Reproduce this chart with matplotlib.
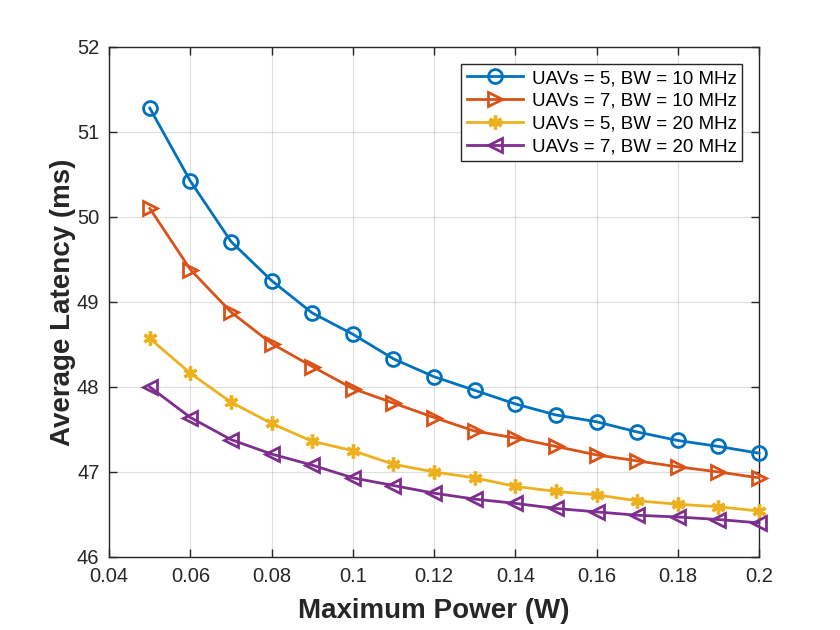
"""
Average latency vs maximum power
MATLAB-style line chart
"""
from matplotlib import pyplot as plt
import numpy as np

plt.rcParams['font.family'] = ['Liberation Sans', 'DejaVu Sans']

# Maximum transmit power (W)
power = np.array([0.05, 0.06, 0.07, 0.08, 0.09, 0.10, 0.11, 0.12,
                  0.13, 0.14, 0.15, 0.16, 0.17, 0.18, 0.19, 0.20])

# Average latency (ms) for each setting
uav5_bw10 = [51.28, 50.42, 49.71, 49.25, 48.87, 48.62, 48.33, 48.12,
             47.96, 47.80, 47.67, 47.59, 47.47, 47.37, 47.30, 47.22]
uav7_bw10 = [50.10, 49.38, 48.88, 48.51, 48.24, 47.98, 47.81, 47.64,
             47.48, 47.40, 47.30, 47.20, 47.13, 47.06, 47.00, 46.93]
uav5_bw20 = [48.57, 48.16, 47.82, 47.57, 47.36, 47.25, 47.09, 47.00,
             46.93, 46.83, 46.77, 46.73, 46.66, 46.62, 46.59, 46.54]
uav7_bw20 = [48.00, 47.64, 47.38, 47.21, 47.08, 46.93, 46.84, 46.75,
             46.68, 46.63, 46.57, 46.53, 46.49, 46.47, 46.44, 46.40]

labels = ['UAVs = 5, BW = 10 MHz', 'UAVs = 7, BW = 10 MHz',
          'UAVs = 5, BW = 20 MHz', 'UAVs = 7, BW = 20 MHz']
colors = ['#0072BD', '#D95319', '#EDB120', '#7E2F8E']
markers = ['o', '>', (6, 2, 0), '<']

fig = plt.figure(figsize=(8.4, 6.3), dpi=100)
ax = fig.add_axes([0.13, 0.116, 0.7736, 0.8095])

series = [uav5_bw10, uav7_bw10, uav5_bw20, uav7_bw20]
for values, label, color, marker in zip(series, labels, colors, markers):
    if marker == (6, 2, 0):
        ax.plot(power, values, color=color, lw=2, marker=marker, ms=10,
                mew=2.4, label=label, clip_on=False, zorder=3)
    else:
        ax.plot(power, values, color=color, lw=2, marker=marker, ms=10,
                mew=2, mfc='none', label=label, clip_on=False, zorder=3)

ax.set_xlim(0.04, 0.2)
ax.set_ylim(46, 52)
ax.set_xticks(np.arange(0.04, 0.201, 0.02))
ax.set_xticklabels(['0.04', '0.06', '0.08', '0.1', '0.12', '0.14', '0.16', '0.18', '0.2'])
ax.set_yticks(range(46, 53))

ax.grid(True, color='#262626', alpha=0.15, lw=0.8)
ax.tick_params(direction='in', length=6, width=1, colors='#262626',
               labelsize=14.5, top=True, right=True, labeltop=False, labelright=False, pad=7)
for spine in ax.spines.values():
    spine.set_color('#262626')
    spine.set_linewidth(1)

ax.set_xlabel('Maximum Power (W)', fontsize=20, fontweight='bold', color='#262626', labelpad=9)
ax.set_ylabel('Average Latency (ms)', fontsize=20, fontweight='bold', color='#262626', labelpad=1)

leg = ax.legend(loc='upper right', fontsize=13.5, frameon=True, fancybox=False,
                edgecolor='#262626', framealpha=1, handlelength=3.0,
                borderpad=0.3, labelspacing=0.3, handletextpad=0.45,
                borderaxespad=0, bbox_to_anchor=(0.974, 0.966))
leg.get_frame().set_linewidth(1)

fig.savefig('out.png', dpi=100)
